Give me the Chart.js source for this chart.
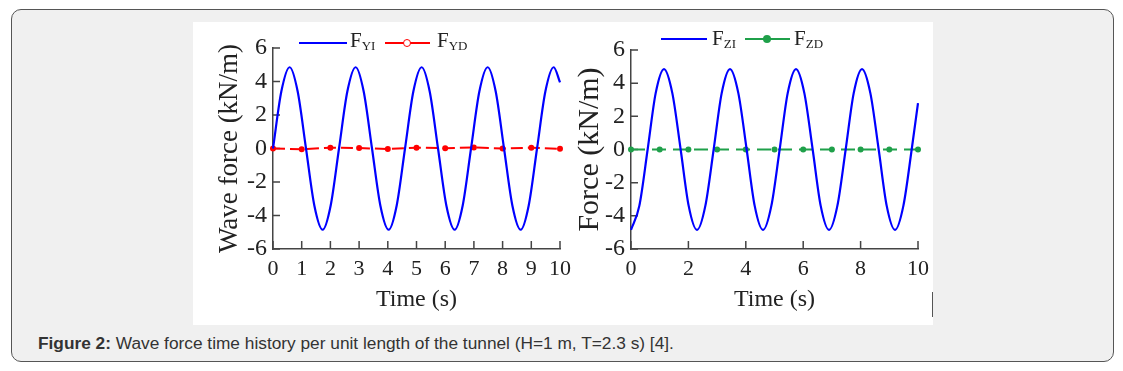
<!DOCTYPE html>
<html>
<head>
<meta charset="utf-8">
<script src="https://cdn.jsdelivr.net/npm/chart.js@4/dist/chart.umd.min.js"></script>
<style>
  body { margin: 0; width: 1123px; height: 371px; background: #fff; position: relative; overflow: hidden; }
  .frame { position: absolute; left: 11px; top: 9px; width: 1103px; height: 353px; box-sizing: border-box;
           border: 1px solid #555; border-radius: 10px; background: #f0f0f0; }
  .paper { position: absolute; left: 193px; top: 22px; width: 740px; height: 303px; background: #fff; }
  canvas { position: absolute; }
  .lg { position: absolute; font-family: 'Liberation Serif', serif; font-size: 21px; line-height: 21px; color: #222; white-space: nowrap; }
  .lg sub { font-size: 13px; vertical-align: -3px; line-height: 0; }
  .ln { position: absolute; height: 0; }
  .dot { position: absolute; border-radius: 50%; box-sizing: border-box; }
  .caption { position: absolute; left: 38px; top: 335px; font-family: 'Liberation Sans', Arial, sans-serif; font-size: 17.3px; line-height: 17px; color: #333; white-space: nowrap; }
  .mark { position: absolute; left: 932px; top: 292px; width: 1px; height: 25px; background: #555; }
</style>
</head>
<body>
<div class="frame"></div>
<div class="paper"></div>
<div class="mark"></div>

<canvas id="c1" width="385" height="303" style="left:193px;top:22px;width:385px;height:303px"></canvas>
<canvas id="c2" width="385" height="303" style="left:551px;top:22px;width:385px;height:303px"></canvas>

<!-- legend chart 1 -->
<div class="ln" style="left:299px;top:42px;width:48px;border-top:2px solid #0000ff"></div>
<div class="lg" style="left:350px;top:30px">F<sub>YI</sub></div>
<div class="ln" style="left:385px;top:42px;width:45px;border-top:2px solid #ff0000"></div>
<div class="dot" style="left:403px;top:39px;width:8px;height:8px;border:1.5px solid #ff0000;background:#fff"></div>
<div class="lg" style="left:437px;top:30px">F<sub>YD</sub></div>

<!-- legend chart 2 -->
<div class="ln" style="left:661px;top:38px;width:46px;border-top:2px solid #0000ff"></div>
<div class="lg" style="left:712px;top:28px">F<sub>ZI</sub></div>
<div class="ln" style="left:745px;top:38px;width:45px;border-top:2px solid #1fa04a"></div>
<div class="dot" style="left:763px;top:35px;width:8px;height:8px;background:#1fa04a"></div>
<div class="lg" style="left:794px;top:28px">F<sub>ZD</sub></div>

<div class="caption"><b>Figure 2:</b> Wave force time history per unit length of the tunnel (H=1 m, T=2.3 s) [4].</div>

<script>
// time samples of the incident force curves (s)
const timeCurve = [0, 0.29, 0.58, 0.86, 1.15, 1.44, 1.73, 2.01, 2.3, 2.59, 2.88, 3.16, 3.45, 3.74, 4.03, 4.31,
  4.6, 4.89, 5.18, 5.46, 5.75, 6.04, 6.33, 6.61, 6.9, 7.19, 7.48, 7.76, 8.05, 8.34, 8.63, 8.91, 9.2, 9.49, 9.78, 10];
// F_YI (kN/m)
const fYI = [0, 3.4, 4.85, 3.4, 0, -3.4, -4.85, -3.4, 0, 3.4, 4.85, 3.4, 0, -3.4, -4.85, -3.4,
  0, 3.4, 4.85, 3.4, 0, -3.4, -4.85, -3.4, 0, 3.4, 4.85, 3.4, 0, -3.4, -4.85, -3.4, 0, 3.4, 4.85, 3.95];
// F_ZI (kN/m)
const fZI = [-4.85, -3.4, 0, 3.4, 4.85, 3.4, 0, -3.4, -4.85, -3.4, 0, 3.4, 4.85, 3.4, 0, -3.4,
  -4.85, -3.4, 0, 3.4, 4.85, 3.4, 0, -3.4, -4.85, -3.4, 0, 3.4, 4.85, 3.4, 0, -3.4, -4.85, -3.4, 0, 2.8];
// drag force samples, one per second
const timeMarks = [0, 1, 2, 3, 4, 5, 6, 7, 8, 9, 10];
const fYD = [0, -0.05, 0.05, 0.03, -0.03, 0.05, 0.02, 0.06, 0, 0.05, -0.02];
const fZD = [0, 0, 0, 0, 0, 0, 0, 0, 0, 0, 0];

const serif = 'Liberation Serif';
const axisColor = '#444';

const pts = (xs, ys) => xs.map((x, i) => ({ x: x, y: ys[i] }));

// short tick marks pointing into the plot
const innerTicks = {
  id: 'innerTicks',
  beforeDatasetsDraw(chart) {
    const { ctx, chartArea, scales } = chart;
    ctx.save();
    ctx.strokeStyle = axisColor;
    ctx.lineWidth = 1.5;
    ctx.beginPath();
    scales.x.ticks.forEach(t => {
      const px = scales.x.getPixelForValue(t.value);
      ctx.moveTo(px, chartArea.bottom);
      ctx.lineTo(px, chartArea.bottom - 8);
    });
    scales.y.ticks.forEach(t => {
      const py = scales.y.getPixelForValue(t.value);
      ctx.moveTo(chartArea.left, py);
      ctx.lineTo(chartArea.left + 7, py);
    });
    ctx.stroke();
    ctx.restore();
  }
};

function makeChart(id, opts) {
  return new Chart(document.getElementById(id), {
    type: 'line',
    data: {
      datasets: [
        {
          data: pts(timeCurve, opts.curve),
          borderColor: '#0000ff',
          borderWidth: 2.2,
          pointRadius: 0,
          cubicInterpolationMode: 'monotone',
          clip: false
        },
        {
          data: pts(timeMarks, opts.drag),
          borderColor: opts.dragColor,
          borderWidth: 2,
          borderDash: opts.dash,
          pointRadius: 3,
          pointBorderWidth: 0,
          pointBackgroundColor: opts.dragColor,
          clip: false
        }
      ]
    },
    options: {
      responsive: false,
      animation: false,
      layout: { padding: { left: 0, right: 11, top: opts.top, bottom: 0 } },
      plugins: { legend: { display: false }, tooltip: { enabled: false } },
      scales: {
        x: {
          type: 'linear', min: 0, max: 10,
          grid: { drawOnChartArea: false, drawTicks: false },
          border: { color: axisColor, width: 1.5 },
          ticks: { stepSize: opts.step, padding: 7, color: '#222', font: { family: serif, size: 22 } },
          title: { display: true, text: 'Time (s)', color: '#222', padding: { top: 0, bottom: 11 },
                   font: { family: serif, size: 24 } },
          afterFit: s => { s.height = opts.xh; }
        },
        y: {
          min: -6, max: 6,
          grid: { drawOnChartArea: false, drawTicks: false },
          border: { color: axisColor, width: 1.5 },
          ticks: { stepSize: 2, padding: 6, color: '#222', font: { family: serif, size: 24 } },
          title: { display: true, text: opts.yTitle, color: '#222', padding: { top: 21, bottom: 0 },
                   font: { family: serif, size: opts.yTitleSize } },
          afterFit: s => { s.width = 80; }
        }
      }
    },
    plugins: [innerTicks]
  });
}

makeChart('c1', { curve: fYI, drag: fYD, dragColor: '#ff0000', dash: [12, 5],
  step: 1, top: 26, xh: 76, yTitle: 'Wave force (kN/m)', yTitleSize: 27 });
makeChart('c2', { curve: fZI, drag: fZD, dragColor: '#1fa04a', dash: [14, 7],
  step: 2, top: 28, xh: 76, yTitle: 'Force (kN/m)', yTitleSize: 30 });
</script>
</body>
</html>
